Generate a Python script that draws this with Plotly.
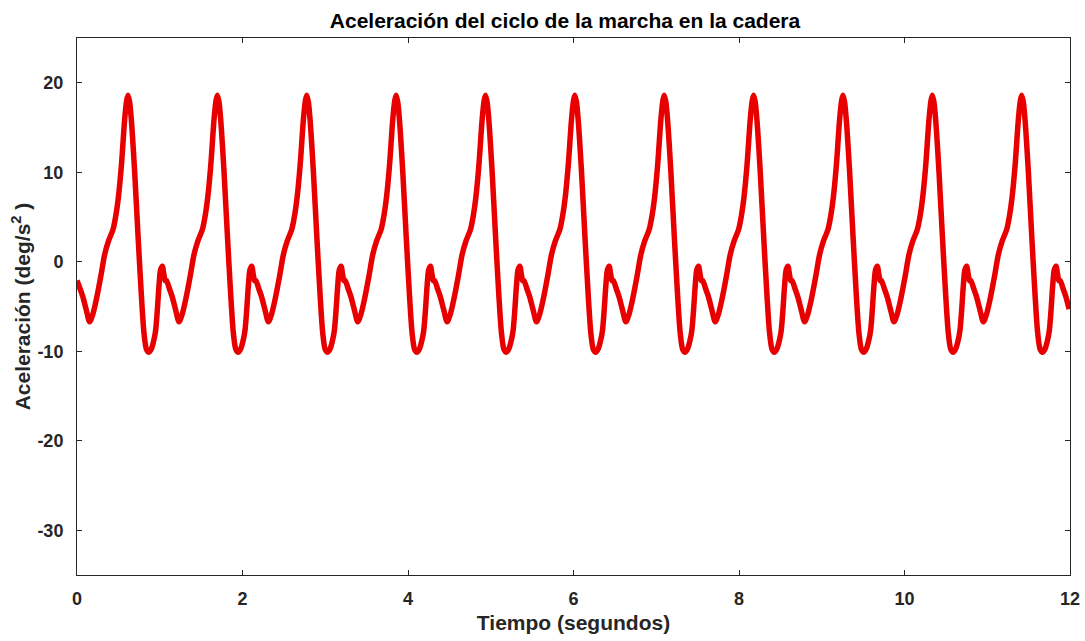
import numpy as np
import plotly.graph_objects as go

# One gait cycle of hip acceleration: time within the cycle (s) and value (deg/s^2)
cycle_phase = [0.000, 0.040, 0.070, 0.110, 0.153, 0.190, 0.234, 0.290, 0.334, 0.380,
               0.435, 0.470, 0.500, 0.536, 0.576, 0.600, 0.616, 0.635, 0.657, 0.697,
               0.737, 0.777, 0.810, 0.840, 0.870, 0.900, 0.930, 0.950, 0.970, 0.990,
               1.010, 1.031, 1.050, 1.065]
cycle_value = [-2.1, -3.1, -3.9, -5.3, -6.7, -5.9, -4.2, -1.5, 0.8, 2.3,
               3.6, 5.2, 7.2, 10.7, 15.9, 18.0, 18.6, 17.9, 15.8, 10.0,
               3.0, -3.6, -8.0, -9.8, -10.1, -9.7, -8.7, -7.7, -5.5, -2.8,
               -0.9, -0.5, -1.4, -2.1]
cycle_period = 1.08   # seconds per stride
t_end = 12.0

x_ticks = [0, 2, 4, 6, 8, 10, 12]
x_ticktext = ["0", "2", "4", "6", "8", "10", "12"]
y_ticks = [-30, -20, -10, 0, 10, 20]
y_ticktext = ["-30", "-20", "-10", "0", "10", "20"]

# Repeat the stride over the recording
t, a = [], []
k = 0
while k * cycle_period < t_end:
    for p, v in zip(cycle_phase, cycle_value):
        tt = k * cycle_period + p
        if tt <= t_end:
            t.append(tt)
            a.append(v)
    k += 1

font_family = "Liberation Sans, Arial, sans-serif"
ink = "#262626"

fig = go.Figure()
fig.add_trace(go.Scatter(
    x=t, y=a, mode="lines",
    line=dict(color="rgb(232,0,0)", width=5.5, shape="spline", smoothing=0.8),
    showlegend=False, hoverinfo="skip",
))

axis_common = dict(
    showgrid=False, zeroline=False, showline=True, linecolor=ink,
    linewidth=1, mirror="allticks", ticks="inside", ticklen=5,
    tickcolor=ink, tickwidth=1, automargin=False,
    tickfont=dict(family=font_family, size=18, color=ink, weight="bold"),
)

fig.update_xaxes(
    range=[0, 12], tickvals=x_ticks, ticktext=x_ticktext, ticklabelstandoff=7,
    title=dict(text="Tiempo (segundos)", standoff=7,
               font=dict(family=font_family, size=21, color=ink, weight="bold")),
    **axis_common,
)
fig.update_yaxes(
    range=[-35, 25], tickvals=y_ticks, ticktext=y_ticktext, ticklabelstandoff=9,
    title=dict(text="Aceleración (deg/s<sup>2</sup> )", standoff=1,
               font=dict(family=font_family, size=21, color=ink, weight="bold")),
    **axis_common,
)

fig.update_layout(
    width=1085, height=641,
    margin=dict(l=77, r=15, t=38, b=66),
    paper_bgcolor="white", plot_bgcolor="white",
    title=dict(text="Aceleración del ciclo de la marcha en la cadera",
               x=565 / 1085, xanchor="center", y=1 - 21 / 641, yanchor="middle",
               font=dict(family=font_family, size=21, color="#000000", weight="bold")),
)

fig.write_html("out.html")
